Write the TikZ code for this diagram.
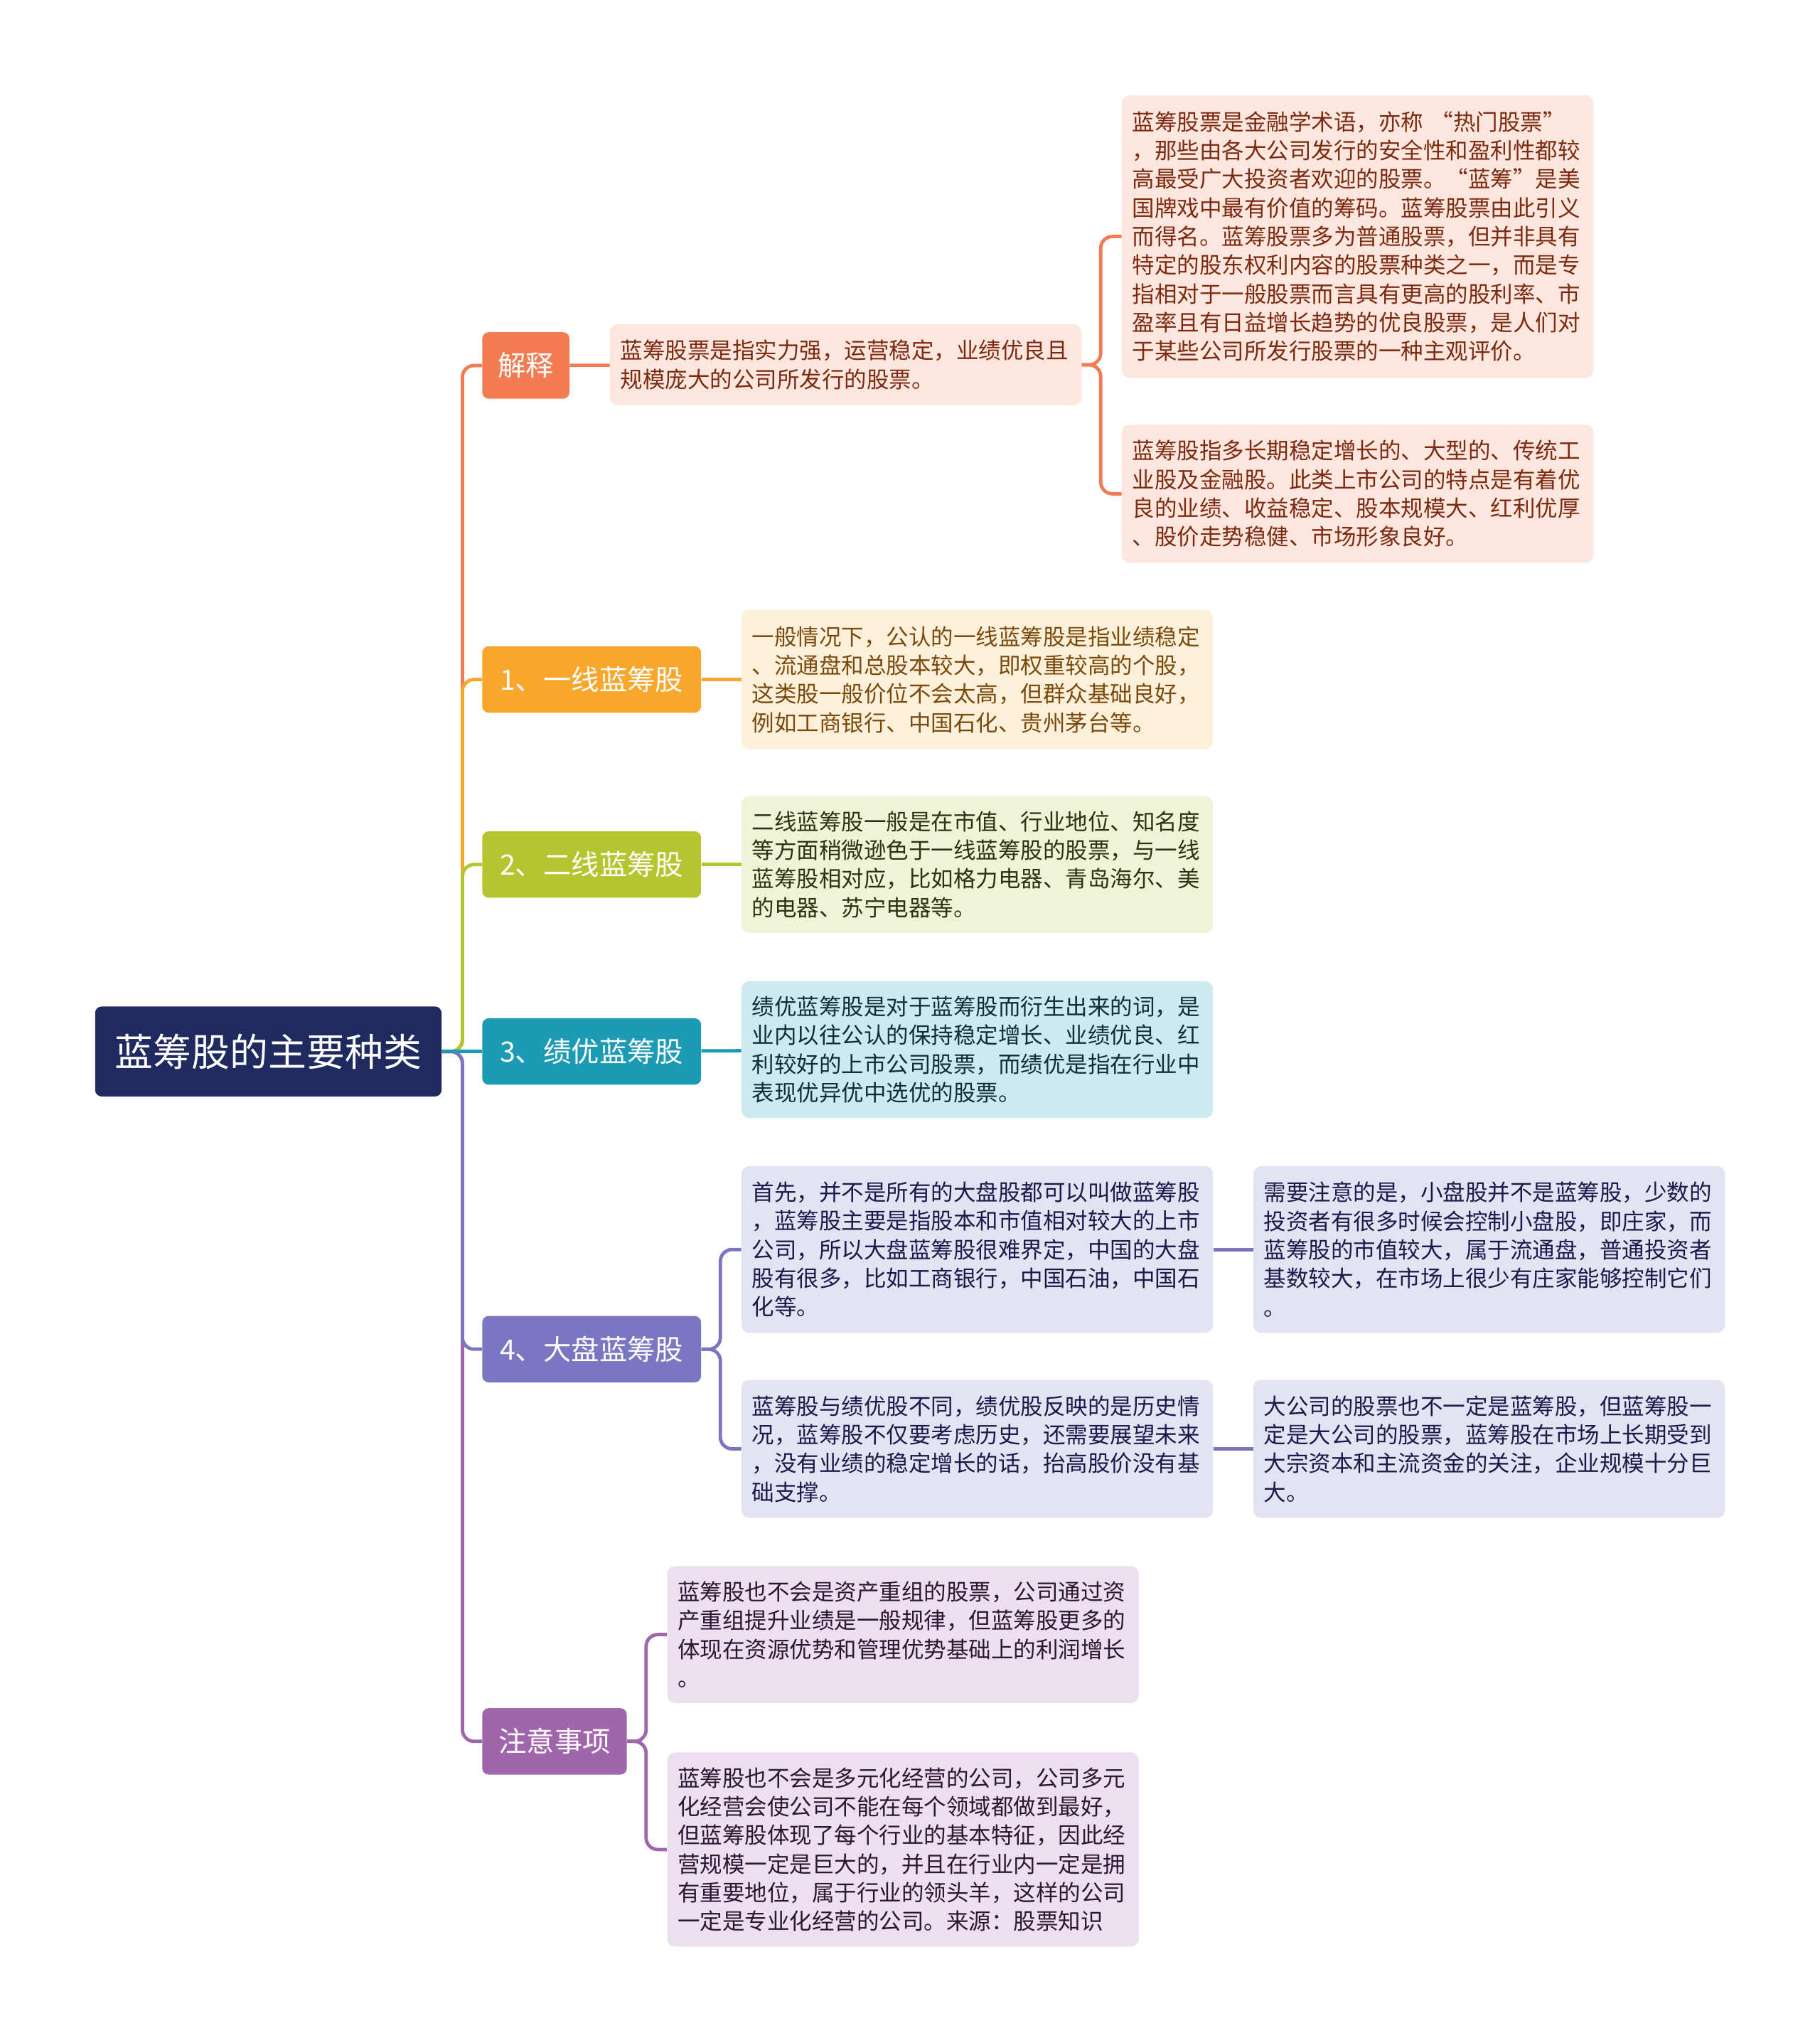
\documentclass[tikz,border=0pt]{standalone}
\usepackage{fontspec}
\setmainfont{Noto Sans CJK SC}
\usetikzlibrary{positioning}

\definecolor{rootcol}{HTML}{1F2A60}
\definecolor{cjs}{HTML}{F37B52}
\definecolor{cyx}{HTML}{F8A72C}
\definecolor{cex}{HTML}{B4C62F}
\definecolor{cjy}{HTML}{1D9BB4}
\definecolor{cdp}{HTML}{7A76C1}
\definecolor{czy}{HTML}{A066AC}
\definecolor{fjs}{HTML}{FDE6DE} \definecolor{tjs}{HTML}{7C2A10}
\definecolor{fyx}{HTML}{FDF0DA} \definecolor{tyx}{HTML}{7A4A0C}
\definecolor{fex}{HTML}{EFF3D7} \definecolor{tex}{HTML}{2B3410}
\definecolor{fjy}{HTML}{CDEAF1} \definecolor{tjy}{HTML}{0E2E38}
\definecolor{fdp}{HTML}{E3E3F1} \definecolor{tdp}{HTML}{1B1A4D}
\definecolor{fzy}{HTML}{ECDFF0} \definecolor{tzy}{HTML}{2D1632}

\tikzset{
   root/.style={ rectangle, fill=rootcol, text=white, rounded corners=5pt, minimum width=266pt, minimum height=69pt, font=\fontsize{29.4}{34}\selectfont},
   topic/.style={ rectangle, fill=#1, text=white, rounded corners=5pt, minimum height=51pt, inner xsep=0pt, anchor=west, font=\fontsize{21.5}{25}\selectfont},
   leaf/.style 2 args={ rectangle, fill=#1, text=#2, rounded corners=6pt, text width=346pt, inner xsep=8pt, align=left, anchor=west, font=\fontsize{17.2}{22}\selectfont},
   link/.style={ draw=#1, line width=2.6pt, rounded corners=9pt},
}

\begin{document}
\begin{tikzpicture}[x=1pt,y=-1pt]
  \useasboundingbox (0,0) rectangle (1397,1568);

  \node[root] at (206,807) (root) {蓝筹股的主要种类};

  \node[topic=cjs, minimum width=67pt]  at (370,280.5)  (jieshi) {解释};
  \node[topic=cyx, minimum width=168pt] at (370,521.5)  (yixian) {1、一线蓝筹股};
  \node[topic=cex, minimum width=168pt] at (370,663.5)  (erxian) {2、二线蓝筹股};
  \node[topic=cjy, minimum width=168pt] at (370,807)    (jiyou)  {3、绩优蓝筹股};
  \node[topic=cdp, minimum width=168pt] at (370,1035.5) (dapan)  {4、大盘蓝筹股};
  \node[topic=czy, minimum width=111pt] at (370,1336.5) (zhuyi)  {注意事项};

  %% 解释
  \node[leaf={fjs}{tjs}, minimum height=62pt] at (468,280) (js main) {蓝筹股票是指实力强，运营稳定，业绩优良且\\规模庞大的公司所发行的股票。};
  \node[leaf={fjs}{tjs}, minimum height=217pt] at (861,181.5) (js one) {蓝筹股票是金融学术语，亦称 “热门股票”\\，那些由各大公司发行的安全性和盈利性都较\\高最受广大投资者欢迎的股票。“蓝筹”是美\\国牌戏中最有价值的筹码。蓝筹股票由此引义\\而得名。蓝筹股票多为普通股票，但并非具有\\特定的股东权利内容的股票种类之一，而是专\\指相对于一般股票而言具有更高的股利率、市\\盈率且有日益增长趋势的优良股票，是人们对\\于某些公司所发行股票的一种主观评价。};
  \node[leaf={fjs}{tjs}, minimum height=106pt] at (861,379) (js two) {蓝筹股指多长期稳定增长的、大型的、传统工\\业股及金融股。此类上市公司的特点是有着优\\良的业绩、收益稳定、股本规模大、红利优厚\\、股价走势稳健、市场形象良好。};

  %% 一线 / 二线 / 绩优
  \node[leaf={fyx}{tyx}, minimum height=107pt] at (569,521.5) (yx leaf) {一般情况下，公认的一线蓝筹股是指业绩稳定\\、流通盘和总股本较大，即权重较高的个股，\\这类股一般价位不会太高，但群众基础良好，\\例如工商银行、中国石化、贵州茅台等。};
  \node[leaf={fex}{tex}, minimum height=105pt] at (569,663.5) (ex leaf) {二线蓝筹股一般是在市值、行业地位、知名度\\等方面稍微逊色于一线蓝筹股的股票，与一线\\蓝筹股相对应，比如格力电器、青岛海尔、美\\的电器、苏宁电器等。};
  \node[leaf={fjy}{tjy}, minimum height=105pt] at (569,805.5) (jy leaf) {绩优蓝筹股是对于蓝筹股而衍生出来的词，是\\业内以往公认的保持稳定增长、业绩优良、红\\利较好的上市公司股票，而绩优是指在行业中\\表现优异优中选优的股票。};

  %% 大盘
  \node[leaf={fdp}{tdp}, minimum height=128pt] at (569,959)    (dp one)   {首先，并不是所有的大盘股都可以叫做蓝筹股\\，蓝筹股主要是指股本和市值相对较大的上市\\公司，所以大盘蓝筹股很难界定，中国的大盘\\股有很多，比如工商银行，中国石油，中国石\\化等。};
  \node[leaf={fdp}{tdp}, minimum height=106pt] at (569,1112)   (dp two)   {蓝筹股与绩优股不同，绩优股反映的是历史情\\况，蓝筹股不仅要考虑历史，还需要展望未来\\，没有业绩的稳定增长的话，抬高股价没有基\\础支撑。};
  \node[leaf={fdp}{tdp}, minimum height=128pt] at (962,959)    (dp three) {需要注意的是，小盘股并不是蓝筹股，少数的\\投资者有很多时候会控制小盘股，即庄家，而\\蓝筹股的市值较大，属于流通盘，普通投资者\\基数较大，在市场上很少有庄家能够控制它们\\。};
  \node[leaf={fdp}{tdp}, minimum height=106pt] at (962,1112)   (dp four)  {大公司的股票也不一定是蓝筹股，但蓝筹股一\\定是大公司的股票，蓝筹股在市场上长期受到\\大宗资本和主流资金的关注，企业规模十分巨\\大。};

  %% 注意事项
  \node[leaf={fzy}{tzy}, minimum height=105pt] at (512,1254.5) (zy one) {蓝筹股也不会是资产重组的股票，公司通过资\\产重组提升业绩是一般规律，但蓝筹股更多的\\体现在资源优势和管理优势基础上的利润增长\\。};
  \node[leaf={fzy}{tzy}, minimum height=149pt] at (512,1419.5) (zy two) {蓝筹股也不会是多元化经营的公司，公司多元\\化经营会使公司不能在每个领域都做到最好，\\但蓝筹股体现了每个行业的基本特征，因此经\\营规模一定是巨大的，并且在行业内一定是拥\\有重要地位，属于行业的领头羊，这样的公司\\一定是专业化经营的公司。来源：股票知识};

  \coordinate (trunk) at (355,807);
  \coordinate (js fork) at (845,280);
  \coordinate (dp fork) at (553,1035.5);
  \coordinate (zy fork) at (496,1336.5);

  %% Trunk, far branches first
  \draw[link=cjs] (root.east) -- (trunk) |- (jieshi.west);
  \draw[link=cyx] (root.east) -- (trunk) |- (yixian.west);
  \draw[link=cex] (root.east) -- (trunk) |- (erxian.west);
  \draw[link=czy] (root.east) -- (trunk) |- (zhuyi.west);
  \draw[link=cdp] (root.east) -- (trunk) |- (dapan.west);
  \draw[link=cjy] (root.east) -- (jiyou.west);

  \draw[link=cjs] (jieshi) -- (js main);
  \draw[link=cjs] (js main.east) -- (js fork) |- (js one.west);
  \draw[link=cjs] (js main.east) -- (js fork) |- (js two.west);

  \draw[link=cyx] (yixian) -- (yx leaf);
  \draw[link=cex] (erxian) -- (ex leaf);
  \draw[link=cjy] (jiyou) -- (jy leaf);

  \draw[link=cdp] (dapan.east) -- (dp fork) |- (dp one.west);
  \draw[link=cdp] (dapan.east) -- (dp fork) |- (dp two.west);
  \draw[link=cdp] (dp one) -- (dp three);
  \draw[link=cdp] (dp two) -- (dp four);

  \draw[link=czy] (zhuyi.east) -- (zy fork) |- (zy one.west);
  \draw[link=czy] (zhuyi.east) -- (zy fork) |- (zy two.west);

\end{tikzpicture}
\end{document}
